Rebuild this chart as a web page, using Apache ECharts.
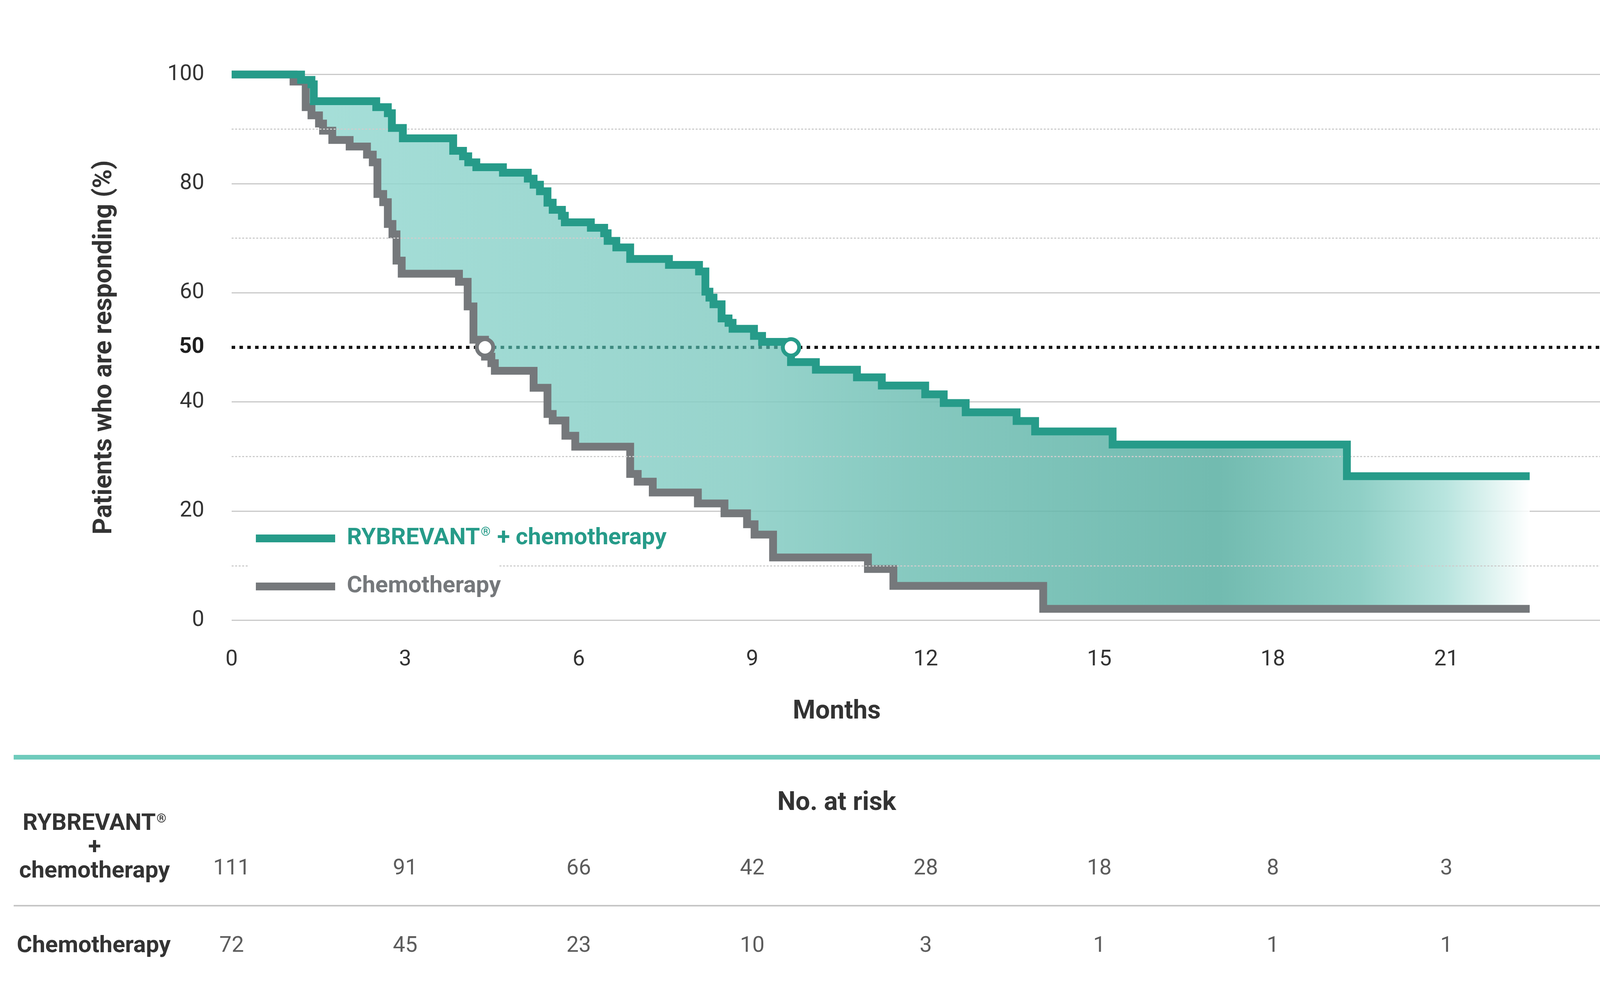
<!DOCTYPE html>
<html>
<head>
<meta charset="utf-8">
<title>Duration of response</title>
<script src="https://cdn.jsdelivr.net/npm/echarts@6.0.0/dist/echarts.min.js"></script>
<style>
  html, body { margin: 0; padding: 0; background: #ffffff; }
  #chart { width: 4225px; height: 2521px; }
</style>
</head>
<body>
<div id="chart"></div>
<script>
// step data (months, % responding)
const rybMonths = [0, 1.20, 1.38, 1.42, 2.50, 2.70, 2.77, 2.96, 3.83, 4.00, 4.09, 4.23, 4.69, 5.12, 5.22, 5.33,
    5.46, 5.55, 5.71, 5.76, 6.21, 6.44, 6.50, 6.65, 6.89, 7.56, 8.08, 8.19, 8.26, 8.33, 8.47, 8.59,
    8.66, 9.03, 9.17, 9.67, 10.10, 10.81, 11.24, 11.99, 12.31, 12.69, 13.57, 13.89, 15.23, 19.28, 22.44];
const rybPct = [100, 99.0, 98.2, 95.1, 94.0, 92.9, 90.2, 88.3, 86.0, 85.0, 83.9, 83.0, 82.0, 80.9, 79.8, 78.6,
    76.5, 75.2, 74.1, 72.9, 71.9, 70.9, 69.5, 68.3, 66.2, 65.1, 63.9, 60.2, 59.1, 57.9, 55.3, 54.5,
    53.4, 52.1, 51.0, 47.3, 45.9, 44.5, 43.0, 41.4, 39.8, 38.1, 36.5, 34.6, 32.2, 26.4, 26.4];

const chemoMonths = [0, 1.07, 1.28, 1.38, 1.51, 1.58, 1.74, 2.04, 2.34, 2.44, 2.52, 2.62, 2.70, 2.78, 2.85, 2.94,
    3.93, 4.08, 4.18, 4.38, 4.49, 4.55, 5.22, 5.46, 5.55, 5.77, 5.94, 6.89, 7.02, 7.28, 8.06, 8.52,
    8.91, 9.04, 9.36, 11.00, 11.44, 14.03, 22.44];
const chemoPct = [100, 98.7, 94.0, 92.5, 91.0, 89.7, 88.0, 86.8, 85.3, 83.9, 78.1, 76.6, 72.6, 70.7, 65.9, 63.5,
    62.0, 57.5, 51.4, 48.3, 47.1, 45.7, 42.6, 37.8, 36.6, 33.8, 31.8, 26.8, 25.4, 23.4, 21.4, 19.6,
    17.6, 15.7, 11.5, 9.4, 6.3, 2.1, 2.1];

// median duration (where each curve crosses 50%)
const medianPct = 50;
const chemoMedian = 4.38;
const rybMedian = 9.67;

// number at risk table
const riskMonths = [0, 3, 6, 9, 12, 15, 18, 21, 24];
const rybRisk = [111, 91, 66, 42, 28, 18, 8, 3, 0];
const chemoRisk = [72, 45, 23, 10, 3, 1, 1, 1, 0];

const minorLevels = [30, 70, 90];
const legendGap = [0.3, 4.63];   // dotted 10% line is interrupted by the legend

const RYB_NAME = 'RYBREVANT\u00AE + chemotherapy';
const CHEMO_NAME = 'Chemotherapy';
const GREEN = '#269b89';
const GRAY = '#75787b';
const TEXT = '#333333';
const FONT = 'Roboto';

document.addEventListener('DOMContentLoaded', function () {
    const chart = echarts.init(document.getElementById('chart'));

    // value of a step curve at month t
    function stepValue(times, vals, t) {
        let v = vals[0];
        for (let i = 0; i < times.length; i++) {
            if (times[i] <= t) v = vals[i];
            else break;
        }
        return v;
    }

    // band between the two curves: chemo as the base, difference stacked on top.
    // value first, month second, so the stack runs on the y value (encode below)
    const bandMonths = Array.from(new Set(rybMonths.concat(chemoMonths))).sort((a, b) => a - b);
    const bandBase = bandMonths.map(t => [stepValue(chemoMonths, chemoPct, t), t]);
    const bandDiff = bandMonths.map(t => [+(stepValue(rybMonths, rybPct, t) - stepValue(chemoMonths, chemoPct, t)).toFixed(2), t]);

    const dotted = { color: '#cdcdcd', width: 3, type: [5, 4] };
    const minorLines = minorLevels.map(v => [
        { coord: [0, v], lineStyle: dotted },
        { coord: [24, v] }
    ]);
    minorLines.push([{ coord: [0, 10], lineStyle: dotted }, { coord: [legendGap[0], 10] }]);
    minorLines.push([{ coord: [legendGap[1], 10], lineStyle: dotted }, { coord: [24, 10] }]);

    const fillGradient = new echarts.graphic.LinearGradient(0, 0, 1, 0, [
        { offset: 0, color: 'rgba(153,219,212,0.85)' },
        { offset: 0.4, color: 'rgba(133,204,195,0.85)' },
        { offset: 0.53, color: 'rgba(112,191,180,0.85)' },
        { offset: 0.76, color: 'rgba(89,175,162,0.85)' },
        { offset: 0.87, color: 'rgba(124,199,188,0.85)' },
        { offset: 0.935, color: 'rgba(172,224,217,0.85)' },
        { offset: 1, color: 'rgba(255,255,255,0.85)' }
    ]);

    const riskLabel = {
        show: true,
        position: 'inside',
        formatter: p => String(p.value[2]),
        fontFamily: FONT,
        fontSize: 56,
        color: TEXT
    };

    const option = {
        animation: false,
        backgroundColor: '#ffffff',
        textStyle: { fontFamily: FONT },
        grid: [
            { left: 593, right: 78, top: 190.5, bottom: 933.5, outerBoundsMode: 'none' },
            { left: 593, right: 78, top: 2125, height: 396, outerBoundsMode: 'none' }
        ],
        legend: {
            orient: 'vertical',
            left: 655,
            top: 1343,
            padding: 0,
            itemWidth: 203,
            itemHeight: 20,
            itemGap: 53,
            selectedMode: false,
            textStyle: {
                fontFamily: FONT,
                fontSize: 60,
                fontWeight: 'bold',
                lineHeight: 70,
                padding: [0, 0, 0, 25],
                rich: {
                    g: { fontFamily: FONT, fontSize: 60, fontWeight: 'bold', color: GREEN, lineHeight: 70 },
                    gs: { fontFamily: FONT, fontSize: 32, fontWeight: 'bold', color: GREEN, lineHeight: 70, verticalAlign: 'top', padding: [4, 2, 0, 2] },
                    c: { fontFamily: FONT, fontSize: 60, fontWeight: 'bold', color: GRAY, lineHeight: 70 }
                }
            },
            formatter: function (name) {
                if (name === RYB_NAME) return '{g|RYBREVANT}{gs|\u00AE}{g| + chemotherapy}';
                return '{c|' + name + '}';
            },
            data: [
                { name: RYB_NAME, icon: 'rect', itemStyle: { color: GREEN, borderWidth: 0 } },
                { name: CHEMO_NAME, icon: 'rect', itemStyle: { color: GRAY, borderWidth: 0 } }
            ]
        },
        xAxis: [
            {
                type: 'value',
                gridIndex: 0,
                min: 0,
                max: 24,
                interval: 3,
                axisLine: { show: false },
                axisTick: { show: false },
                splitLine: { show: false },
                axisLabel: { fontFamily: FONT, fontSize: 56, color: TEXT, margin: 73 }
            },
            { type: 'value', gridIndex: 1, min: 0, max: 24, show: false }
        ],
        yAxis: [
            {
                type: 'value',
                gridIndex: 0,
                min: 0,
                max: 100,
                interval: 20,
                name: 'Patients who are responding (%)',
                nameLocation: 'middle',
                nameGap: 292,
                nameTextStyle: { fontFamily: FONT, fontSize: 66, fontWeight: 'bold', color: TEXT },
                axisLine: { show: false },
                axisTick: { show: false },
                axisLabel: { fontFamily: FONT, fontSize: 56, color: TEXT, margin: 70 },
                splitLine: { lineStyle: { color: '#c9c9c9', width: 3 } }
            },
            {
                type: 'category',
                gridIndex: 1,
                data: ['ryb', 'chemo'],
                inverse: true,
                show: false
            }
        ],
        series: [
            {
                // dotted minor grid lines
                name: 'minorGrid',
                type: 'line',
                data: [],
                z: 1,
                silent: true,
                markLine: {
                    silent: true,
                    symbol: 'none',
                    label: { show: false },
                    data: minorLines
                }
            },
            {
                name: 'bandBase',
                type: 'line',
                stack: 'band',
                stackStrategy: 'all',
                step: 'end',
                encode: { x: 1, y: 0 },
                data: bandBase,
                symbol: 'none',
                silent: true,
                z: 2,
                lineStyle: { width: 0, opacity: 0 }
            },
            {
                name: 'bandDiff',
                type: 'line',
                stack: 'band',
                stackStrategy: 'all',
                step: 'end',
                encode: { x: 1, y: 0 },
                data: bandDiff,
                symbol: 'none',
                silent: true,
                z: 2,
                lineStyle: { width: 0, opacity: 0 },
                areaStyle: { color: fillGradient, opacity: 1 }
            },
            {
                // 50% reference line
                name: 'median',
                type: 'line',
                data: [],
                z: 3,
                silent: true,
                markLine: {
                    silent: true,
                    symbol: 'none',
                    data: [
                        [
                            {
                                coord: [0, medianPct],
                                lineStyle: { color: '#151515', width: 8, type: [9, 11] },
                                label: {
                                    show: true,
                                    position: 'start',
                                    distance: 70,
                                    formatter: String(medianPct),
                                    fontFamily: FONT,
                                    fontSize: 56,
                                    fontWeight: 'bold',
                                    color: '#1e1e1e'
                                }
                            },
                            { coord: [chemoMedian, medianPct] }
                        ],
                        [
                            { coord: [chemoMedian, medianPct], lineStyle: { color: '#3e8a80', width: 8, type: [9, 11] }, label: { show: false } },
                            { coord: [rybMedian, medianPct] }
                        ],
                        [
                            { coord: [rybMedian, medianPct], lineStyle: { color: '#151515', width: 8, type: [9, 11] }, label: { show: false } },
                            { coord: [24, medianPct] }
                        ]
                    ]
                }
            },
            {
                name: CHEMO_NAME,
                type: 'line',
                step: 'end',
                data: chemoMonths.map((m, i) => [m, chemoPct[i]]),
                symbol: 'none',
                z: 4,
                color: GRAY,
                lineStyle: { color: GRAY, width: 20, join: 'miter', cap: 'butt' }
            },
            {
                name: RYB_NAME,
                type: 'line',
                step: 'end',
                data: rybMonths.map((m, i) => [m, rybPct[i]]),
                symbol: 'none',
                z: 5,
                color: GREEN,
                lineStyle: { color: GREEN, width: 20, join: 'miter', cap: 'butt' }
            },
            {
                name: 'medians',
                type: 'scatter',
                z: 6,
                silent: true,
                symbol: 'circle',
                symbolSize: 42,
                data: [
                    { value: [chemoMedian, medianPct], itemStyle: { color: '#ffffff', borderColor: GRAY, borderWidth: 10, opacity: 1 } },
                    { value: [rybMedian, medianPct], itemStyle: { color: '#ffffff', borderColor: GREEN, borderWidth: 10, opacity: 1 } }
                ]
            },
            {
                name: 'riskRyb',
                type: 'scatter',
                xAxisIndex: 1,
                yAxisIndex: 1,
                symbolSize: 1,
                silent: true,
                itemStyle: { color: 'rgba(0,0,0,0)' },
                label: riskLabel,
                data: riskMonths.map((m, i) => [m, 0, rybRisk[i]])
            },
            {
                name: 'riskChemo',
                type: 'scatter',
                xAxisIndex: 1,
                yAxisIndex: 1,
                symbolSize: 1,
                silent: true,
                itemStyle: { color: 'rgba(0,0,0,0)' },
                label: riskLabel,
                data: riskMonths.map((m, i) => [m, 1, chemoRisk[i]])
            }
        ],
        graphic: [
            {
                type: 'text',
                x: 2142,
                y: 1822,
                style: { text: 'Months', fill: TEXT, font: 'bold 66px Roboto', align: 'center', verticalAlign: 'middle' }
            },
            {
                type: 'rect',
                shape: { x: 35, y: 1932, width: 4120, height: 12 },
                style: { fill: '#6fcbbc' }
            },
            {
                type: 'text',
                x: 2142,
                y: 2056,
                style: { text: 'No. at risk', fill: TEXT, font: 'bold 66px Roboto', align: 'center', verticalAlign: 'middle' }
            },
            {
                type: 'text',
                x: 242,
                y: 2170,
                style: {
                    text: '{b|RYBREVANT}{s|\u00AE}\n{b|+}\n{b|chemotherapy}',
                    align: 'center',
                    verticalAlign: 'middle',
                    rich: {
                        b: { fontFamily: FONT, fontSize: 60, fontWeight: 'bold', fill: TEXT, lineHeight: 61 },
                        s: { fontFamily: FONT, fontSize: 32, fontWeight: 'bold', fill: TEXT, lineHeight: 61, verticalAlign: 'top', padding: [2, 0, 0, 2] }
                    }
                }
            },
            {
                type: 'rect',
                shape: { x: 35, y: 2316, width: 4116, height: 4 },
                style: { fill: '#c6c6c6' }
            },
            {
                type: 'text',
                x: 240,
                y: 2422,
                style: { text: 'Chemotherapy', fill: TEXT, font: 'bold 60px Roboto', align: 'center', verticalAlign: 'middle' }
            }
        ]
    };

    chart.setOption(option);
    window.addEventListener('resize', () => chart.resize());
});
</script>
</body>
</html>
